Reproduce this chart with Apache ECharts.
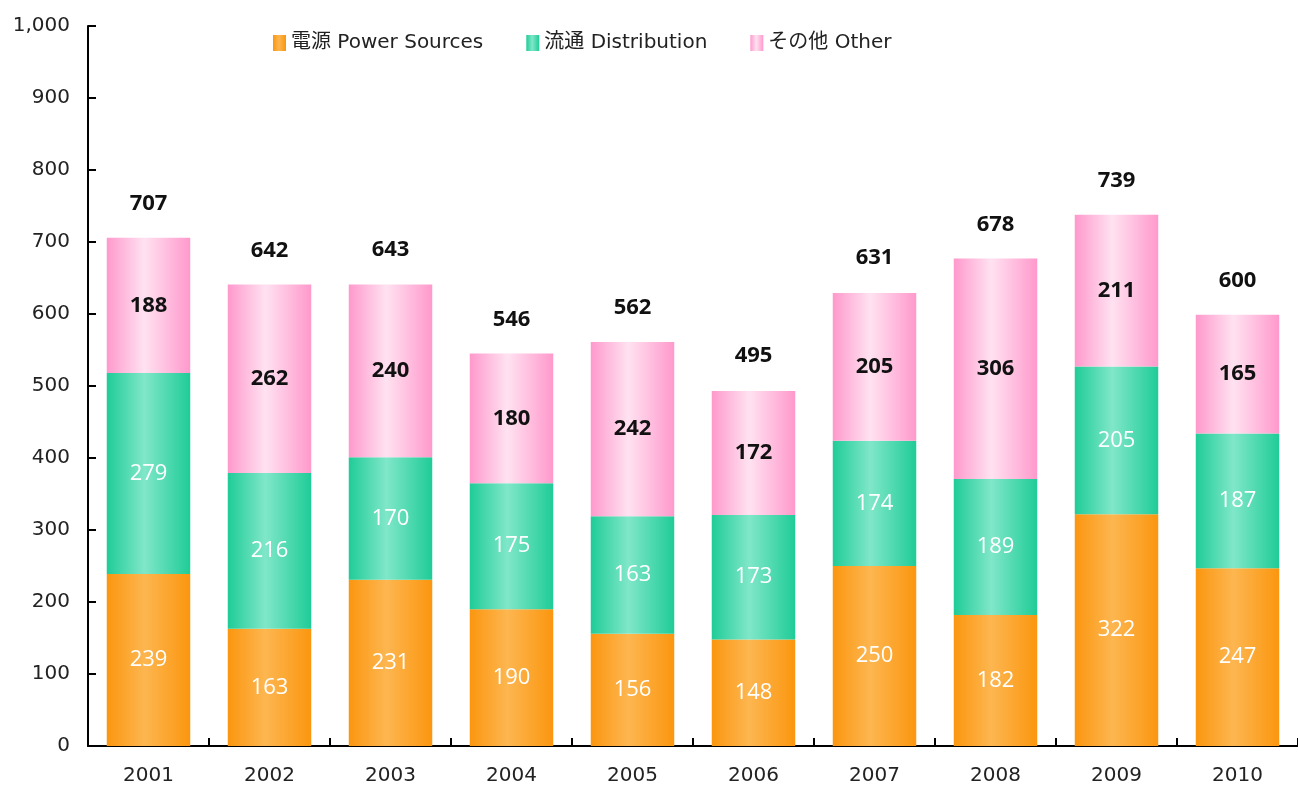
<!DOCTYPE html>
<html>
<head>
<meta charset="utf-8">
<script src="https://cdn.jsdelivr.net/npm/echarts@6/dist/echarts.min.js"></script>
<style>
  html, body { margin: 0; padding: 0; background: #fff; }
  #chart { width: 1298px; height: 787px; }
</style>
</head>
<body>
<div id="chart"></div>
<script>
  const years = ['2001', '2002', '2003', '2004', '2005', '2006', '2007', '2008', '2009', '2010']
  const power = [239, 163, 231, 190, 156, 148, 250, 182, 322, 247]
  const distribution = [279, 216, 170, 175, 163, 173, 174, 189, 205, 187]
  const other = [188, 262, 240, 180, 242, 172, 205, 306, 211, 165]
  const totals = [707, 642, 643, 546, 562, 495, 631, 678, 739, 600]

  const font = '"DejaVu Sans", "Noto Sans CJK JP", sans-serif'
  const labelFont = '"Open Sans", sans-serif'

  const grad = (edge, mid) =>
    new echarts.graphic.LinearGradient(0, 0, 1, 0, [
      { offset: 0, color: edge },
      { offset: 0.45, color: mid },
      { offset: 1, color: edge }
    ])

  const orange = grad('#fb960f', '#fdb650')
  const green = grad('#1fcc97', '#80e7c9')
  const pink = grad('#ff99cc', '#ffe2f1')

  const chart = echarts.init(document.getElementById('chart'))

  const option = {
    animation: false,
    legend: {
      top: 28,
      left: 268,
      icon: 'rect',
      itemWidth: 13,
      itemHeight: 16,
      itemGap: 43,
      textStyle: { fontFamily: font, fontSize: 20, color: '#222' },
      data: ['電源 Power Sources', '流通 Distribution', 'その他 Other']
    },
    grid: { left: 88, right: -6, top: 26, bottom: 41 },
    xAxis: {
      type: 'category',
      data: years,
      axisLine: { lineStyle: { color: '#000', width: 2 } },
      axisTick: { show: true, inside: true, length: 8, lineStyle: { color: '#000', width: 2 } },
      axisLabel: { fontFamily: font, fontSize: 20, color: '#222', margin: 20 }
    },
    yAxis: {
      type: 'value',
      min: 0,
      max: 1000,
      interval: 100,
      splitLine: { show: false },
      axisLine: { show: true, lineStyle: { color: '#000', width: 2 } },
      axisTick: { show: true, inside: true, length: 8, lineStyle: { color: '#000', width: 2 } },
      axisLabel: {
        fontFamily: font,
        fontSize: 20,
        color: '#222',
        margin: 18,
        formatter: (v) => v.toLocaleString('en-US')
      }
    },
    series: [
      {
        name: '電源 Power Sources',
        type: 'bar',
        stack: 'total',
        barWidth: '69%',
        data: power,
        itemStyle: { color: orange },
        label: {
          show: true,
          position: 'inside',
          color: '#fff',
          fontWeight: 500,
          fontFamily: labelFont,
          fontSize: 22
        }
      },
      {
        name: '流通 Distribution',
        type: 'bar',
        stack: 'total',
        data: distribution,
        itemStyle: { color: green },
        label: {
          show: true,
          position: 'inside',
          color: '#fff',
          fontWeight: 500,
          fontFamily: labelFont,
          fontSize: 22
        }
      },
      {
        name: 'その他 Other',
        type: 'bar',
        stack: 'total',
        data: other,
        itemStyle: { color: pink },
        label: {
          show: true,
          position: 'inside',
          color: '#111',
          fontWeight: 'bold',
          fontFamily: labelFont,
          fontSize: 22
        }
      },
      {
        name: 'total',
        type: 'line',
        data: totals,
        symbol: 'circle',
        symbolSize: 1,
        showSymbol: true,
        itemStyle: { color: 'rgba(0,0,0,0)' },
        lineStyle: { opacity: 0 },
        label: {
          show: true,
          position: 'top',
          distance: 22,
          color: '#111',
          fontWeight: 'bold',
          fontFamily: labelFont,
          fontSize: 22
        }
      }
    ]
  }

  chart.setOption(option)
</script>
</body>
</html>
